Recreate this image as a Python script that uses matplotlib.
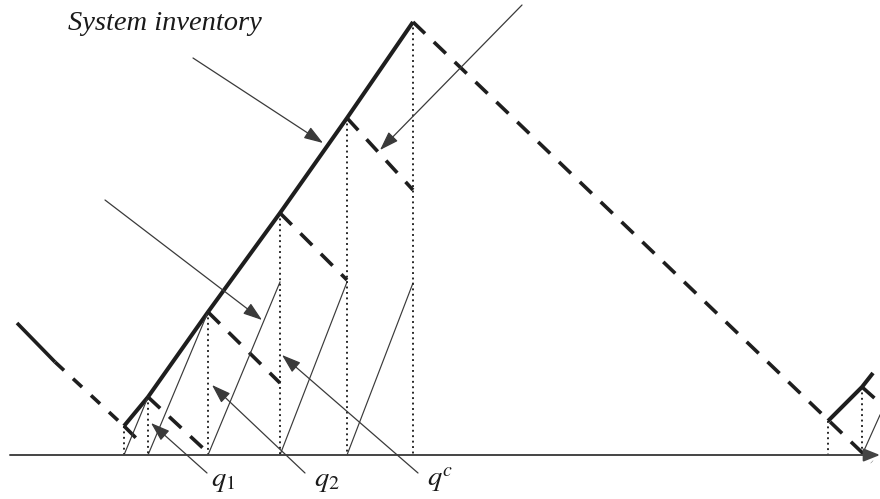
import matplotlib.pyplot as plt

plt.rcParams['mathtext.fontset'] = 'stix'

# heights are measured upward from the time axis
# system inventory: start point and the kinks where each stage order goes out
sys_x = [124, 148, 208, 280, 347, 413]
sys_y = [29, 58, 143, 242, 337, 433]

# end of the dashed decline that leaves every kink
drop_x = [138, 205, 280, 347, 413, 872]
drop_y = [15, 5, 72, 175, 265, -7]

# thin sawtooth lines of the stage inventories (start on axis, end point)
stage_x0 = [124, 148, 208, 280, 347, 862]
stage_x1 = [148, 208, 280, 347, 413, 880]
stage_y1 = [58, 143, 173, 173, 172, 40]

# next cycle at the right edge
next_x = [828, 862, 873]
next_y = [34, 68, 82]

# decline coming in from the previous cycle
prev_x = [17, 55, 124]
prev_y = [132, 93, 29]

# label arrows: (text start) -> (tip)
arrow_from = [(193, 397), (522, 450), (105, 255), (207, -18), (305, -18), (418, -18)]
arrow_to = [(323, 312), (380, 305), (262, 135), (151, 32), (212, 70), (282, 100)]

labels = ['$q_1$', '$q_2$', '$q^c$']
label_x = [211, 314, 427]

ink = '#1e1e1e'
thin = '#3a3a3a'

fig = plt.figure(figsize=(8.8, 4.99), dpi=100)
ax = fig.add_axes([0, 0, 1, 1])
ax.set_xlim(0, 880)
ax.set_ylim(-44, 455)
ax.axis('off')

dash = (0, (4.6, 3.4))

# system inventory rising
ax.plot(sys_x, sys_y, color=ink, lw=2.9, solid_capstyle='butt')
ax.plot(next_x, next_y, color=ink, lw=2.9, solid_capstyle='butt')

# dashed declines
for x0, y0, x1, y1 in zip(sys_x, sys_y, drop_x, drop_y):
    ax.plot([x0, x1], [y0, y1], color=ink, lw=2.6, linestyle=dash, dash_capstyle='butt')
ax.plot([next_x[1], 880], [next_y[1], 52], color=ink, lw=2.6, linestyle=dash)
ax.plot(prev_x[:2], prev_y[:2], color=ink, lw=2.6, solid_capstyle='butt')
ax.plot(prev_x[1:], prev_y[1:], color=ink, lw=2.6, linestyle=(0, (3.4, 3.4)))

# stage inventories
for x0, x1, y1 in zip(stage_x0, stage_x1, stage_y1):
    ax.plot([x0, x1], [0, y1], color=thin, lw=0.85)

# dotted drop lines to the time axis
for x, y in zip(sys_x + next_x[:2], sys_y + next_y[:2]):
    ax.plot([x, x], [y, 0], color=ink, lw=1.35, linestyle=(0, (1, 1.9)))

# time axis
ax.annotate('', xy=(880, 0), xytext=(10, 0),
            arrowprops=dict(arrowstyle='-|>,head_length=0.55,head_width=0.22',
                            mutation_scale=18, color='#444444', lw=1.4,
                            shrinkA=0, shrinkB=0))

for (x0, y0), (x1, y1) in zip(arrow_from, arrow_to):
    ax.annotate('', xy=(x1, y1), xytext=(x0, y0),
                arrowprops=dict(arrowstyle='-|>,head_length=0.65,head_width=0.22',
                                mutation_scale=18, color=thin, lw=0.9,
                                shrinkA=0, shrinkB=0))

ax.text(68, 425, 'System inventory', fontsize=20.5, family='Liberation Serif',
        style='italic', color='#1a1a1a', ha='left', va='baseline')
for x, s in zip(label_x, labels):
    ax.text(x, -31, s, fontsize=20.5, color='#1a1a1a', ha='left', va='baseline')

fig.savefig('out.png', dpi=100)
